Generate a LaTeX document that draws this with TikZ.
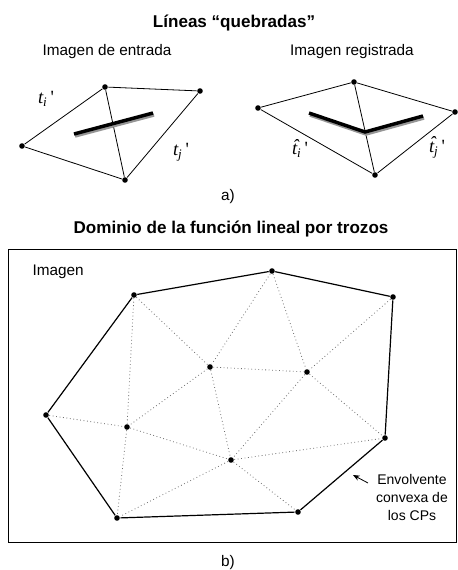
\documentclass[tikz,border=0pt]{standalone}
\usepackage{fontspec}
\setmainfont{Liberation Sans}
\newfontfamily\tms{Liberation Serif}
\usetikzlibrary{arrows.meta}

\newcommand{\hatt}{\ooalign{t\cr\hidewidth\kern0.12em\raisebox{0.14em}{ˆ}\hidewidth\cr}}

\tikzset{every picture/.style={line width=0.75pt}}
\tikzset{
  cp/.style={circle,fill=black,inner sep=0pt,minimum size=4.2pt},
  edge/.style={line width=0.6pt},
  hull/.style={line width=0.9pt},
  tri/.style={dotted,color={rgb, 255:red, 110; green, 110; blue, 110 },line width=0.6pt},
  stroke/.style={line width=2.6pt,line cap=butt},
  shade/.style={line width=2.6pt,color={rgb, 255:red, 150; green, 150; blue, 150 }},
  lbl/.style={inner sep=0.75pt,font=\fontsize{11.5}{13}\selectfont},
  sml/.style={inner sep=0.75pt,font=\fontsize{10.5}{13.5}\selectfont},
  ttl/.style={inner sep=0.75pt,font=\fontsize{12.8}{15}\selectfont\bfseries},
  tlab/.style={inner sep=0.75pt,font=\fontsize{14}{16}\selectfont\tms\itshape}
}

\begin{document}
\begin{tikzpicture}[x=0.75pt,y=0.75pt,yscale=-1,xscale=1]
\useasboundingbox (0,0) rectangle (457,570);

% Titles
\node[ttl] (titA) at (234,23) {Líneas “quebradas”};
\node[lbl] (entrada) at (107,52) {Imagen de entrada};
\node[lbl] (registrada) at (352,52) {Imagen registrada};
\node[lbl] (capA) at (228,197) {a)};

%Input image
\node[cp] (p1) at (105,87) {};
\node[cp] (p2) at (200,91) {};
\node[cp] (p3) at (22,146) {};
\node[cp] (p4) at (125,180) {};
\draw[edge] (p3) -- (p1) -- (p2) -- (p4) -- (p3);
\draw[edge] (p1) -- (p4);
% line and its shadow
\coordinate (s1) at (74,134);
\coordinate (s2) at (153,113);
\draw[shade] ([shift={(1,2)}]s1) -- ([shift={(1,2)}]s2);
\draw[stroke] (s1) -- (s2);
\node[tlab] (ti) at (46,99) {t\textsubscript{i}\,\upshape'};
\node[tlab] (tj) at (181,152) {t\textsubscript{j}\,\upshape'};

%Registered image
\node[cp] (q1) at (354,82) {};
\node[cp] (q2) at (455,112) {};
\node[cp] (q3) at (258,108) {};
\node[cp] (q4) at (375,175) {};
\draw[edge] (q3) -- (q1) -- (q2) -- (q4) -- (q3);
\draw[edge] (q1) -- (q4);
% broken line and its shadow
\coordinate (b1) at (309,113);
\coordinate (b2) at (365,132);
\coordinate (b3) at (423,116);
\draw[shade,line join=miter] ([shift={(1,2)}]b1) -- ([shift={(1,2)}]b2) -- ([shift={(1,2)}]b3);
\draw[stroke,line join=miter] (b1) -- (b2) -- (b3);
\node[tlab] (hti) at (300,150) {\hatt\textsubscript{i}\,\upshape'};
\node[tlab] (htj) at (437,149) {\hatt\textsubscript{j}\,\upshape'};

% Domain
\node[ttl] (titB) at (231,229) {Dominio de la función lineal por trozos};
\draw[line width=0.6pt] (8,249) rectangle (456,542);
\node[lbl,anchor=west] (img) at (31,272) {Imagen};

\node[cp] (A) at (134,295) {};
\node[cp] (B) at (272,271) {};
\node[cp] (C) at (393,297) {};
\node[cp] (D) at (210,367) {};
\node[cp] (E) at (307,372) {};
\node[cp] (F) at (46,415) {};
\node[cp] (G) at (127,427) {};
\node[cp] (H) at (231,460) {};
\node[cp] (I) at (385,438) {};
\node[cp] (J) at (117,518) {};
\node[cp] (K) at (298,512) {};

% triangulation
\foreach \u/\v in {A/G,A/D,B/D,B/E,C/E,D/E,D/G,D/H,E/H,E/I,F/G,G/H,G/J,H/I,H/J,H/K}
  \draw[tri] (\u) -- (\v);
% convex hull
\draw[hull] (F) -- (A) -- (B) -- (C) -- (I) -- (K) -- (J) -- (F);

\node[sml,align=center] (env) at (412,497) {Envolvente\\convexa de\\los CPs};
\coordinate (tip) at (353,475);
\draw[-{Stealth[length=5pt,width=4pt]},line width=0.6pt] (368,483) -- (tip);

\node[lbl] (capB) at (228,563) {b)};
\end{tikzpicture}
\end{document}
